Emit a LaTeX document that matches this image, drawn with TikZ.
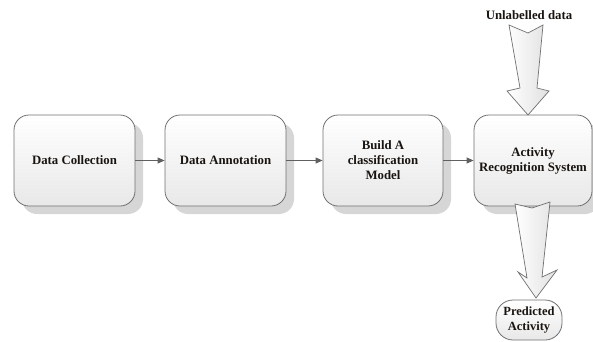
\documentclass[tikz,border=0pt]{standalone}
\usepackage{fontspec}
\setmainfont{Liberation Serif}
\usetikzlibrary{arrows.meta,shapes.geometric}
\definecolor{edgegray}{HTML}{707070}
\definecolor{shadowgray}{HTML}{D6D6D6}
\definecolor{linegray}{HTML}{606060}
\definecolor{txt}{HTML}{1A1410}
\tikzset{
  procbox/.style={draw=edgegray, line width=0.8pt, rounded corners=15pt,
    top color=white, bottom color=black!9, align=center,
    font=\bfseries\fontsize{12.8}{15}\selectfont, text=txt, inner sep=2pt},
  boxshadow/.style={fill=shadowgray, rounded corners=15pt},
  flow/.style={draw=linegray, line width=0.8pt, -{Triangle[length=7pt,width=6pt]}},
  blockarrow/.style={draw=edgegray, line width=0.7pt, left color=white, right color=black!12, line join=miter},
  pill/.style={draw=edgegray, line width=0.8pt, rounded corners=17pt,
    top color=white, bottom color=black!9, align=center,
    font=\bfseries\fontsize{12.5}{14.5}\selectfont, text=txt, inner sep=1pt},
  plainlabel/.style={font=\bfseries\fontsize{12.8}{14}\selectfont, text=txt}
}
\begin{document}
\begin{tikzpicture}[x=1pt,y=-1pt]
\useasboundingbox (0,0) rectangle (593,341);
% shadows
\fill[boxshadow] (22,123) rectangle (143,214);
\fill[boxshadow] (173,123) rectangle (294,214);
\fill[boxshadow] (331,123) rectangle (451,214);
\fill[boxshadow] (482,123) rectangle (600,214);
% boxes
\node[procbox, minimum width=121pt, minimum height=91pt] (b1) at (74.5,160.5) {Data Collection};
\node[procbox, minimum width=121pt, minimum height=91pt] (b2) at (225.5,160.5) {Data Annotation};
\node[procbox, minimum width=120pt, minimum height=91pt] (b3) at (383,160.5) {Build A\\classification\\Model};
\node[procbox, minimum width=118pt, minimum height=91pt] (b4) at (533,160.5) {Activity\\Recognition System};
% flows
\draw[flow] (b1.east) -- (b2.west);
\draw[flow] (b2.east) -- (b3.west);
\draw[flow] (b3.east) -- (b4.west);
% label
\node[plainlabel] (ul) at (529,15) {Unlabelled data};
% top block arrow
\coordinate (tt) at (528,115);
\path[blockarrow] (509,25) -- (528,33) -- (543,25) -- (537,88) -- (549,91) -- (tt) -- (507,91) -- (520,88) -- cycle;
% predicted activity
\node[pill, minimum width=66pt, minimum height=40pt] (pa) at (529,320) {Predicted\\Activity};
% bottom block arrow
\coordinate (bt) at (536,298);
\path[blockarrow] (515,204) -- (532,208) -- (550,202) -- (542,277) -- (557,270) -- (bt) -- (518,272) -- (527,278) -- cycle;
\end{tikzpicture}
\end{document}
